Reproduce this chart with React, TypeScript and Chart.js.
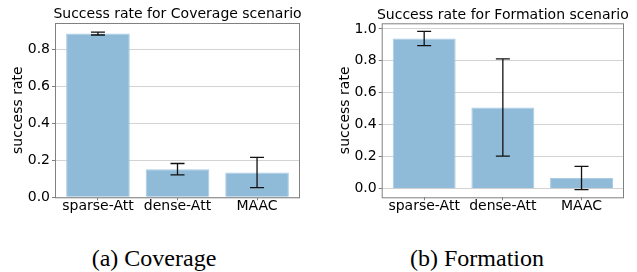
import React, { useEffect, useRef } from 'react';
import { Chart, registerables } from 'chart.js';

Chart.register(...registerables);

const categories = ['sparse-Att', 'dense-Att', 'MAAC'];
const coverageMeans = [0.887, 0.152, 0.134];
const coverageErrors = [0.008, 0.031, 0.082];
const formationMeans = [0.94, 0.508, 0.067];
const formationErrors = [0.045, 0.304, 0.073];
const coverageTicks = [0, 0.2, 0.4, 0.6, 0.8];
const formationTicks = [0, 0.2, 0.4, 0.6, 0.8, 1.0];
const coverageTitle = 'Success rate for Coverage scenario';
const formationTitle = 'Success rate for Formation scenario';
const captionA = '(a) Coverage';
const captionB = '(b) Formation';
const yLabel = 'success rate';

const FONT = '"DejaVu Sans", sans-serif';
const BAR_COLOR = '#8fbbd9';
const SPINE = '#808080';
const GRID = '#d3d3d3';

type PanelProps = {
  means: number[];
  errors: number[];
  ticks: number[];
  yMin: number;
  yMax: number;
  title: string;
  width: number;
  height: number;
  yWidth: number;
  padTop: number;
  padRight: number;
  xHeight: number;
  yTitlePad: number;
};

function Panel(p: PanelProps) {
  const ref = useRef<HTMLCanvasElement | null>(null);
  useEffect(() => {
    if (!ref.current) return;
    const decor = {
      id: 'decor',
      afterDatasetsDraw(chart: any) {
        const { ctx, chartArea: a, scales } = chart;
        const x = scales.x;
        const y = scales.y;
        ctx.save();
        ctx.strokeStyle = '#111';
        ctx.lineWidth = 1.3;
        p.means.forEach((m, i) => {
          const px = x.getPixelForValue(i);
          const lo = y.getPixelForValue(m - p.errors[i]);
          const hi = y.getPixelForValue(m + p.errors[i]);
          ctx.beginPath();
          ctx.moveTo(px, lo);
          ctx.lineTo(px, hi);
          ctx.moveTo(px - 7, lo);
          ctx.lineTo(px + 7, lo);
          ctx.moveTo(px - 7, hi);
          ctx.lineTo(px + 7, hi);
          ctx.stroke();
        });
        ctx.strokeStyle = SPINE;
        ctx.lineWidth = 1;
        ctx.strokeRect(a.left + 0.5, a.top + 0.5, a.right - a.left - 1, a.bottom - a.top);
        ctx.fillStyle = '#000';
        ctx.font = '14px ' + FONT;
        ctx.textAlign = 'center';
        ctx.textBaseline = 'alphabetic';
        ctx.fillText(p.title, (a.left + a.right) / 2, a.top - 4.7);
        ctx.restore();
      },
    };
    const chart = new Chart(ref.current, {
      type: 'bar',
      data: {
        datasets: [
          {
            data: p.means.map((v, i) => ({ x: i, y: v })),
            backgroundColor: BAR_COLOR,
            borderColor: '#a9cbe3',
            borderWidth: 1,
            categoryPercentage: 1,
            barPercentage: 0.8,
          },
        ],
      },
      options: {
        animation: false,
        responsive: false,
        maintainAspectRatio: false,
        devicePixelRatio: 1,
        layout: { padding: { top: p.padTop, right: p.padRight, left: 0, bottom: 0 } },
        plugins: { legend: { display: false }, tooltip: { enabled: false }, title: { display: false } },
        scales: {
          x: {
            type: 'linear',
            offset: false,
            min: -0.54,
            max: 2.54,
            grid: { offset: false, drawOnChartArea: false, drawTicks: true, tickLength: 3, tickColor: SPINE },
            border: { display: false },
            afterBuildTicks: (s: any) => {
              s.ticks = categories.map((_, i) => ({ value: i }));
            },
            afterFit: (s: any) => {
              s.height = p.xHeight;
            },
            ticks: {
              autoSkip: false,
              maxRotation: 0,
              padding: -2,
              color: '#000',
              font: { family: FONT, size: 14 },
              callback: (v: any) => categories[Math.round(Number(v))] ?? '',
            },
          },
          y: {
            min: p.yMin,
            max: p.yMax,
            afterBuildTicks: (s: any) => {
              s.ticks = p.ticks.map((v) => ({ value: v }));
            },
            afterFit: (s: any) => {
              s.width = p.yWidth;
            },
            grid: { color: GRID, lineWidth: 1, tickLength: 3, tickColor: SPINE },
            border: { display: false },
            ticks: {
              padding: 2,
              color: '#000',
              font: { family: FONT, size: 14 },
              callback: (v: any) => Number(v).toFixed(1),
            },
            title: {
              display: true,
              text: yLabel,
              color: '#000',
              font: { family: FONT, size: 14 },
              padding: { top: p.yTitlePad, bottom: 0 },
            },
          },
        },
      },
      plugins: [decor],
    } as any);
    return () => chart.destroy();
  }, []);
  return (
    <canvas
      ref={ref}
      width={p.width}
      height={p.height}
      style={{ width: p.width, height: p.height, display: 'block' }}
    />
  );
}

const captionStyle: React.CSSProperties = {
  position: 'absolute',
  top: 246,
  fontFamily: '"Liberation Serif", "Times New Roman", serif',
  fontSize: 24,
  lineHeight: '24px',
  color: '#000',
  whiteSpace: 'nowrap',
  transform: 'translateX(-50%)',
};

export default function App() {
  return (
    <div
      style={{
        position: 'fixed',
        left: 0,
        top: 0,
        width: 637,
        height: 272,
        background: '#fff',
        overflow: 'hidden',
      }}
    >
      <div style={{ position: 'absolute', left: 0, top: 0 }}>
        <Panel
          means={coverageMeans}
          errors={coverageErrors}
          ticks={coverageTicks}
          yMin={0}
          yMax={0.944}
          title={coverageTitle}
          width={318}
          height={222}
          yWidth={55}
          padTop={23}
          padRight={18}
          xHeight={24.7}
          yTitlePad={10.2}
        />
      </div>
      <div style={{ position: 'absolute', left: 318, top: 0 }}>
        <Panel
          means={formationMeans}
          errors={formationErrors}
          ticks={formationTicks}
          yMin={-0.054}
          yMax={1.035}
          title={formationTitle}
          width={319}
          height={222}
          yWidth={63.7}
          padTop={23.3}
          padRight={13}
          xHeight={24.7}
          yTitlePad={18.6}
        />
      </div>
      <div style={{ ...captionStyle, left: 154 }}>{captionA}</div>
      <div style={{ ...captionStyle, left: 477 }}>{captionB}</div>
    </div>
  );
}
